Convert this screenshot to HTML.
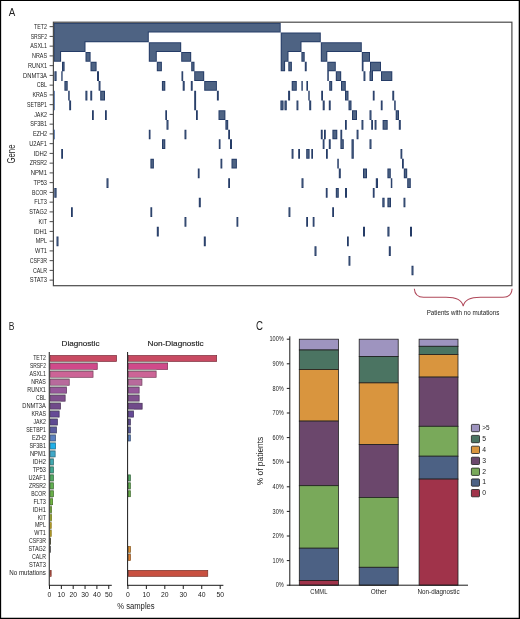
<!DOCTYPE html>
<html><head><meta charset="utf-8"><style>
html,body{margin:0;padding:0;background:#fff;}
svg{display:block;will-change:transform;}
text{font-family:"Liberation Sans",sans-serif;fill:#222;-webkit-font-smoothing:antialiased;}
</style></head><body>
<svg width="520" height="619" viewBox="0 0 520 619">
<rect x="0" y="0" width="520" height="619" fill="#fff"/>
<filter id="edge" x="0" y="0" width="1" height="1" color-interpolation-filters="sRGB"><feMorphology in="SourceAlpha" operator="erode" radius="1" result="er"/><feFlood flood-color="#253c67"/><feComposite in2="SourceAlpha" operator="in" result="dark"/><feComposite in="SourceGraphic" in2="er" operator="in" result="inner"/><feMerge><feMergeNode in="dark"/><feMergeNode in="inner"/></feMerge></filter>
<path fill="#4e6383" filter="url(#edge)" d="M53.50,22.80h227.20v9.71h-227.20zM53.50,32.51h95.30v9.71h-95.30zM280.70,32.51h40.10v9.71h-40.10zM53.50,42.23h32.00v9.71h-32.00zM148.80,42.23h32.40v9.71h-32.40zM280.70,42.23h20.80v9.71h-20.80zM320.80,42.23h41.00v9.71h-41.00zM53.50,51.94h7.60v9.71h-7.60zM85.50,51.94h5.10v9.71h-5.10zM148.80,51.94h8.00v9.71h-8.00zM181.20,51.94h10.00v9.71h-10.00zM280.70,51.94h7.80v9.71h-7.80zM301.40,51.94h3.30v9.71h-3.30zM320.80,51.94h6.50v9.71h-6.50zM361.80,51.94h8.20v9.71h-8.20zM62.00,61.66h2.60v9.71h-2.60zM90.50,61.66h6.10v9.71h-6.10zM156.80,61.66h5.10v9.71h-5.10zM191.20,61.66h3.30v9.71h-3.30zM280.70,61.66h4.40v9.71h-4.40zM288.30,61.66h3.60v9.71h-3.60zM304.80,61.66h1.90v9.71h-1.90zM327.30,61.66h8.50v9.71h-8.50zM361.80,61.66h1.70v9.71h-1.70zM370.00,61.66h11.00v9.71h-11.00zM54.40,71.37h2.20v9.71h-2.20zM61.30,71.37h1.30v9.71h-1.30zM97.00,71.37h2.00v9.71h-2.00zM181.50,71.37h1.70v9.71h-1.70zM194.20,71.37h10.00v9.71h-10.00zM327.30,71.37h1.50v9.71h-1.50zM335.80,71.37h5.40v9.71h-5.40zM363.50,71.37h1.90v9.71h-1.90zM369.50,71.37h3.50v9.71h-3.50zM381.00,71.37h11.30v9.71h-11.30zM64.40,81.08h3.30v9.71h-3.30zM98.60,81.08h1.90v9.71h-1.90zM161.90,81.08h3.40v9.71h-3.40zM182.70,81.08h2.00v9.71h-2.00zM190.80,81.08h1.90v9.71h-1.90zM204.20,81.08h12.70v9.71h-12.70zM291.70,81.08h5.10v9.71h-5.10zM301.40,81.08h1.40v9.71h-1.40zM306.40,81.08h1.60v9.71h-1.60zM329.20,81.08h3.00v9.71h-3.00zM341.00,81.08h4.80v9.71h-4.80zM68.20,90.80h1.50v9.71h-1.50zM85.40,90.80h2.00v9.71h-2.00zM90.30,90.80h1.90v9.71h-1.90zM100.20,90.80h4.80v9.71h-4.80zM194.20,90.80h1.90v9.71h-1.90zM216.90,90.80h1.90v9.71h-1.90zM288.10,90.80h2.00v9.71h-2.00zM308.30,90.80h1.40v9.71h-1.40zM321.20,90.80h1.80v9.71h-1.80zM345.00,90.80h3.50v9.71h-3.50zM372.80,90.80h1.80v9.71h-1.80zM392.30,90.80h1.90v9.71h-1.90zM69.20,100.51h1.90v9.71h-1.90zM194.20,100.51h1.90v9.71h-1.90zM280.40,100.51h3.10v9.71h-3.10zM284.50,100.51h2.30v9.71h-2.30zM296.50,100.51h1.90v9.71h-1.90zM309.20,100.51h2.00v9.71h-2.00zM322.70,100.51h2.00v9.71h-2.00zM328.80,100.51h1.90v9.71h-1.90zM348.50,100.51h3.00v9.71h-3.00zM380.80,100.51h1.80v9.71h-1.80zM394.20,100.51h1.50v9.71h-1.50zM92.00,110.23h1.80v9.71h-1.80zM105.00,110.23h1.80v9.71h-1.80zM165.30,110.23h1.70v9.71h-1.70zM196.00,110.23h1.80v9.71h-1.80zM218.50,110.23h6.90v9.71h-6.90zM352.00,110.23h5.00v9.71h-5.00zM369.50,110.23h2.00v9.71h-2.00zM395.70,110.23h3.30v9.71h-3.30zM166.50,119.94h2.00v9.71h-2.00zM225.40,119.94h2.80v9.71h-2.80zM345.00,119.94h1.80v9.71h-1.80zM361.50,119.94h1.90v9.71h-1.90zM371.20,119.94h1.80v9.71h-1.80zM374.60,119.94h1.90v9.71h-1.90zM382.60,119.94h5.10v9.71h-5.10zM398.80,119.94h2.00v9.71h-2.00zM148.80,129.65h1.70v9.71h-1.70zM184.50,129.65h1.90v9.71h-1.90zM228.20,129.65h1.80v9.71h-1.80zM320.80,129.65h1.90v9.71h-1.90zM324.00,129.65h1.80v9.71h-1.80zM332.40,129.65h4.90v9.71h-4.90zM340.40,129.65h1.80v9.71h-1.80zM356.60,129.65h1.90v9.71h-1.90zM162.00,139.37h3.30v9.71h-3.30zM218.80,139.37h1.70v9.71h-1.70zM230.00,139.37h2.00v9.71h-2.00zM322.70,139.37h1.80v9.71h-1.80zM328.80,139.37h1.90v9.71h-1.90zM340.40,139.37h3.40v9.71h-3.40zM351.50,139.37h2.30v9.71h-2.30zM369.50,139.37h2.00v9.71h-2.00zM61.20,149.08h1.80v9.71h-1.80zM291.60,149.08h1.90v9.71h-1.90zM298.20,149.08h1.80v9.71h-1.80zM306.20,149.08h3.40v9.71h-3.40zM311.30,149.08h1.70v9.71h-1.70zM326.00,149.08h1.80v9.71h-1.80zM351.50,149.08h2.30v9.71h-2.30zM400.50,149.08h1.80v9.71h-1.80zM150.40,158.80h3.50v9.71h-3.50zM220.50,158.80h1.80v9.71h-1.80zM231.50,158.80h5.40v9.71h-5.40zM337.30,158.80h1.50v9.71h-1.50zM402.00,158.80h1.80v9.71h-1.80zM197.80,168.51h1.80v9.71h-1.80zM338.80,168.51h2.00v9.71h-2.00zM363.00,168.51h4.00v9.71h-4.00zM387.40,168.51h3.40v9.71h-3.40zM403.80,168.51h3.40v9.71h-3.40zM106.50,178.22h2.00v9.71h-2.00zM228.20,178.22h1.80v9.71h-1.80zM301.50,178.22h2.00v9.71h-2.00zM375.80,178.22h2.20v9.71h-2.20zM390.80,178.22h1.50v9.71h-1.50zM407.20,178.22h3.60v9.71h-3.60zM54.30,187.94h2.30v9.71h-2.30zM325.80,187.94h1.80v9.71h-1.80zM335.80,187.94h3.00v9.71h-3.00zM345.00,187.94h2.00v9.71h-2.00zM372.80,187.94h1.80v9.71h-1.80zM198.80,197.65h2.00v9.71h-2.00zM382.30,197.65h2.30v9.71h-2.30zM387.40,197.65h3.60v9.71h-3.60zM403.50,197.65h1.90v9.71h-1.90zM71.00,207.37h1.80v9.71h-1.80zM150.40,207.37h1.80v9.71h-1.80zM288.50,207.37h1.90v9.71h-1.90zM332.20,207.37h1.80v9.71h-1.80zM184.50,217.08h1.90v9.71h-1.90zM236.50,217.08h1.80v9.71h-1.80zM306.20,217.08h1.80v9.71h-1.80zM312.70,217.08h1.80v9.71h-1.80zM156.80,226.79h2.00v9.71h-2.00zM363.00,226.79h2.00v9.71h-2.00zM387.40,226.79h2.10v9.71h-2.10zM410.00,226.79h2.00v9.71h-2.00zM56.50,236.51h2.00v9.71h-2.00zM203.80,236.51h2.00v9.71h-2.00zM347.00,236.51h1.80v9.71h-1.80zM314.50,246.22h2.00v9.71h-2.00zM388.80,246.22h2.00v9.71h-2.00zM348.50,255.94h1.90v9.71h-1.90zM411.50,265.65h2.00v9.71h-2.00z"/>
<rect x="54.0" y="90.80" width="1.0" height="19.43" fill="#6a88b8"/>
<rect x="54.0" y="129.65" width="1.0" height="9.71" fill="#6a88b8"/>
<rect x="53.4" y="22.2" width="458.5" height="263.5" fill="none" stroke="#4a4a4a" stroke-width="1.2"/>
<g stroke="#4a4a4a" stroke-width="1">
<line x1="49.6" y1="26.65" x2="53.5" y2="26.65"/>
<line x1="49.6" y1="36.40" x2="53.5" y2="36.40"/>
<line x1="49.6" y1="46.15" x2="53.5" y2="46.15"/>
<line x1="49.6" y1="55.90" x2="53.5" y2="55.90"/>
<line x1="49.6" y1="65.65" x2="53.5" y2="65.65"/>
<line x1="49.6" y1="75.40" x2="53.5" y2="75.40"/>
<line x1="49.6" y1="85.15" x2="53.5" y2="85.15"/>
<line x1="49.6" y1="94.90" x2="53.5" y2="94.90"/>
<line x1="49.6" y1="104.65" x2="53.5" y2="104.65"/>
<line x1="49.6" y1="114.40" x2="53.5" y2="114.40"/>
<line x1="49.6" y1="124.15" x2="53.5" y2="124.15"/>
<line x1="49.6" y1="133.90" x2="53.5" y2="133.90"/>
<line x1="49.6" y1="143.65" x2="53.5" y2="143.65"/>
<line x1="49.6" y1="153.40" x2="53.5" y2="153.40"/>
<line x1="49.6" y1="163.15" x2="53.5" y2="163.15"/>
<line x1="49.6" y1="172.90" x2="53.5" y2="172.90"/>
<line x1="49.6" y1="182.65" x2="53.5" y2="182.65"/>
<line x1="49.6" y1="192.40" x2="53.5" y2="192.40"/>
<line x1="49.6" y1="202.15" x2="53.5" y2="202.15"/>
<line x1="49.6" y1="211.90" x2="53.5" y2="211.90"/>
<line x1="49.6" y1="221.65" x2="53.5" y2="221.65"/>
<line x1="49.6" y1="231.40" x2="53.5" y2="231.40"/>
<line x1="49.6" y1="241.15" x2="53.5" y2="241.15"/>
<line x1="49.6" y1="250.90" x2="53.5" y2="250.90"/>
<line x1="49.6" y1="260.65" x2="53.5" y2="260.65"/>
<line x1="49.6" y1="270.40" x2="53.5" y2="270.40"/>
<line x1="49.6" y1="280.15" x2="53.5" y2="280.15"/>
</g>
<g>
<text x="47.00" y="28.95" font-size="6.5" text-anchor="end" textLength="13.00" lengthAdjust="spacingAndGlyphs" >TET2</text>
<text x="47.00" y="38.70" font-size="6.5" text-anchor="end" textLength="16.30" lengthAdjust="spacingAndGlyphs" >SRSF2</text>
<text x="47.00" y="48.45" font-size="6.5" text-anchor="end" textLength="16.70" lengthAdjust="spacingAndGlyphs" >ASXL1</text>
<text x="47.00" y="58.20" font-size="6.5" text-anchor="end" textLength="15.00" lengthAdjust="spacingAndGlyphs" >NRAS</text>
<text x="47.00" y="67.95" font-size="6.5" text-anchor="end" textLength="18.90" lengthAdjust="spacingAndGlyphs" >RUNX1</text>
<text x="47.00" y="77.70" font-size="6.5" text-anchor="end" textLength="23.90" lengthAdjust="spacingAndGlyphs" >DNMT3A</text>
<text x="47.00" y="87.45" font-size="6.5" text-anchor="end" textLength="10.20" lengthAdjust="spacingAndGlyphs" >CBL</text>
<text x="47.00" y="97.20" font-size="6.5" text-anchor="end" textLength="14.60" lengthAdjust="spacingAndGlyphs" >KRAS</text>
<text x="47.00" y="106.95" font-size="6.5" text-anchor="end" textLength="20.00" lengthAdjust="spacingAndGlyphs" >SETBP1</text>
<text x="47.00" y="116.70" font-size="6.5" text-anchor="end" textLength="12.80" lengthAdjust="spacingAndGlyphs" >JAK2</text>
<text x="47.00" y="126.45" font-size="6.5" text-anchor="end" textLength="16.70" lengthAdjust="spacingAndGlyphs" >SF3B1</text>
<text x="47.00" y="136.20" font-size="6.5" text-anchor="end" textLength="14.10" lengthAdjust="spacingAndGlyphs" >EZH2</text>
<text x="47.00" y="145.95" font-size="6.5" text-anchor="end" textLength="17.80" lengthAdjust="spacingAndGlyphs" >U2AF1</text>
<text x="47.00" y="155.70" font-size="6.5" text-anchor="end" textLength="13.50" lengthAdjust="spacingAndGlyphs" >IDH2</text>
<text x="47.00" y="165.45" font-size="6.5" text-anchor="end" textLength="17.20" lengthAdjust="spacingAndGlyphs" >ZRSR2</text>
<text x="47.00" y="175.20" font-size="6.5" text-anchor="end" textLength="16.30" lengthAdjust="spacingAndGlyphs" >NPM1</text>
<text x="47.00" y="184.95" font-size="6.5" text-anchor="end" textLength="13.50" lengthAdjust="spacingAndGlyphs" >TP53</text>
<text x="47.00" y="194.70" font-size="6.5" text-anchor="end" textLength="15.00" lengthAdjust="spacingAndGlyphs" >BCOR</text>
<text x="47.00" y="204.45" font-size="6.5" text-anchor="end" textLength="12.80" lengthAdjust="spacingAndGlyphs" >FLT3</text>
<text x="47.00" y="214.20" font-size="6.5" text-anchor="end" textLength="17.80" lengthAdjust="spacingAndGlyphs" >STAG2</text>
<text x="47.00" y="223.95" font-size="6.5" text-anchor="end" textLength="8.40" lengthAdjust="spacingAndGlyphs" >KIT</text>
<text x="47.00" y="233.70" font-size="6.5" text-anchor="end" textLength="13.50" lengthAdjust="spacingAndGlyphs" >IDH1</text>
<text x="47.00" y="243.45" font-size="6.5" text-anchor="end" textLength="11.30" lengthAdjust="spacingAndGlyphs" >MPL</text>
<text x="47.00" y="253.20" font-size="6.5" text-anchor="end" textLength="11.90" lengthAdjust="spacingAndGlyphs" >WT1</text>
<text x="47.00" y="262.95" font-size="6.5" text-anchor="end" textLength="17.20" lengthAdjust="spacingAndGlyphs" >CSF3R</text>
<text x="47.00" y="272.70" font-size="6.5" text-anchor="end" textLength="14.10" lengthAdjust="spacingAndGlyphs" >CALR</text>
<text x="47.00" y="282.45" font-size="6.5" text-anchor="end" textLength="17.20" lengthAdjust="spacingAndGlyphs" >STAT3</text>
</g>
<text transform="translate(14.8,154) rotate(-90)" font-size="10.4" text-anchor="middle" textLength="19" lengthAdjust="spacingAndGlyphs" fill="#222">Gene</text>
<text x="8.70" y="16.20" font-size="11.5" textLength="6.50" lengthAdjust="spacingAndGlyphs" >A</text>
<path d="M414.3,288.8 C414.8,295 418,297.3 423.5,297.3 L446,297.3 C456,297.3 462,300 463.2,306.2 C464.4,300 470.4,297.3 480.4,297.3 L503,297.3 C508.4,297.3 511.6,295 512.1,288.8" fill="none" stroke="#b0485a" stroke-width="1.05"/>
<text x="426.70" y="315.00" font-size="7" textLength="72.70" lengthAdjust="spacingAndGlyphs" >Patients with no mutations</text>
<text x="8.70" y="329.80" font-size="11.5" textLength="5.70" lengthAdjust="spacingAndGlyphs" >B</text>
<text x="80.50" y="346.30" font-size="8.0" text-anchor="middle" textLength="38.00" lengthAdjust="spacingAndGlyphs" stroke="#222" stroke-width="0.15">Diagnostic</text>
<text x="175.60" y="346.30" font-size="8.0" text-anchor="middle" textLength="56.30" lengthAdjust="spacingAndGlyphs" stroke="#222" stroke-width="0.15">Non-Diagnostic</text>
<rect x="50.15" y="355.50" width="66.40" height="5.9" fill="#c84a62" stroke="#782c3a" stroke-width="0.7"/>
<rect x="49.80" y="361.71" width="47.80" height="1.4" fill="#b4bab4"/>
<rect x="50.15" y="363.46" width="47.10" height="5.9" fill="#d04a8a" stroke="#7c2c52" stroke-width="0.7"/>
<rect x="49.80" y="369.67" width="43.60" height="1.4" fill="#b4bab4"/>
<rect x="50.15" y="371.42" width="42.90" height="5.9" fill="#cc6496" stroke="#7a3c5a" stroke-width="0.7"/>
<rect x="49.80" y="377.63" width="19.80" height="1.4" fill="#b4bab4"/>
<rect x="50.15" y="379.38" width="19.10" height="5.9" fill="#b86a9c" stroke="#6e3f5d" stroke-width="0.7"/>
<rect x="49.80" y="385.59" width="17.10" height="1.4" fill="#b4bab4"/>
<rect x="50.15" y="387.34" width="16.40" height="5.9" fill="#96589a" stroke="#5a345c" stroke-width="0.7"/>
<rect x="49.80" y="393.55" width="15.70" height="1.4" fill="#b4bab4"/>
<rect x="50.15" y="395.30" width="15.00" height="5.9" fill="#80508e" stroke="#4c3055" stroke-width="0.7"/>
<rect x="49.80" y="401.51" width="11.00" height="1.4" fill="#b4bab4"/>
<rect x="50.15" y="403.26" width="10.30" height="5.9" fill="#704a8a" stroke="#432c52" stroke-width="0.7"/>
<rect x="49.80" y="409.47" width="9.70" height="1.4" fill="#b4bab4"/>
<rect x="50.15" y="411.22" width="9.00" height="5.9" fill="#664a96" stroke="#3d2c5a" stroke-width="0.7"/>
<rect x="49.80" y="417.43" width="7.90" height="1.4" fill="#b4bab4"/>
<rect x="50.15" y="419.18" width="7.20" height="5.9" fill="#5e4a92" stroke="#382c57" stroke-width="0.7"/>
<rect x="49.80" y="425.39" width="7.00" height="1.4" fill="#b4bab4"/>
<rect x="50.15" y="427.14" width="6.30" height="5.9" fill="#5a5a9e" stroke="#36365e" stroke-width="0.7"/>
<rect x="49.80" y="433.35" width="6.10" height="1.4" fill="#b4bab4"/>
<rect x="50.15" y="435.10" width="5.40" height="5.9" fill="#5a80c0" stroke="#364c73" stroke-width="0.7"/>
<rect x="49.80" y="441.31" width="6.10" height="1.4" fill="#b4bab4"/>
<rect x="50.15" y="443.06" width="5.40" height="5.9" fill="#20b0e8" stroke="#13698b" stroke-width="0.7"/>
<rect x="49.80" y="449.27" width="5.70" height="1.4" fill="#b4bab4"/>
<rect x="50.15" y="451.02" width="5.00" height="5.9" fill="#40a8c8" stroke="#266478" stroke-width="0.7"/>
<rect x="49.80" y="457.23" width="4.00" height="1.4" fill="#b4bab4"/>
<rect x="50.15" y="458.98" width="3.30" height="5.9" fill="#40a8b0" stroke="#266469" stroke-width="0.7"/>
<rect x="49.80" y="465.19" width="4.00" height="1.4" fill="#b4bab4"/>
<rect x="50.15" y="466.94" width="3.30" height="5.9" fill="#40a890" stroke="#266456" stroke-width="0.7"/>
<rect x="49.80" y="473.15" width="4.00" height="1.4" fill="#b4bab4"/>
<rect x="50.15" y="474.90" width="3.30" height="5.9" fill="#50a860" stroke="#306439" stroke-width="0.7"/>
<rect x="49.80" y="481.11" width="4.00" height="1.4" fill="#b4bab4"/>
<rect x="50.15" y="482.86" width="3.30" height="5.9" fill="#60b050" stroke="#396930" stroke-width="0.7"/>
<rect x="49.80" y="489.07" width="4.00" height="1.4" fill="#b4bab4"/>
<rect x="50.15" y="490.82" width="3.30" height="5.9" fill="#68b048" stroke="#3e692b" stroke-width="0.7"/>
<rect x="49.80" y="497.03" width="3.20" height="1.4" fill="#b4bab4"/>
<rect x="50.15" y="498.78" width="2.50" height="5.9" fill="#70b840" stroke="#436e26" stroke-width="0.7"/>
<rect x="49.80" y="504.99" width="2.20" height="1.4" fill="#b4bab4"/>
<rect x="50.15" y="506.74" width="1.50" height="5.9" fill="#80b840" stroke="#4c6e26" stroke-width="0.7"/>
<rect x="49.80" y="512.95" width="2.20" height="1.4" fill="#b4bab4"/>
<rect x="50.15" y="514.70" width="1.50" height="5.9" fill="#b0c030" stroke="#69731c" stroke-width="0.7"/>
<rect x="49.80" y="520.91" width="1.80" height="1.4" fill="#b4bab4"/>
<rect x="50.15" y="522.66" width="1.10" height="5.9" fill="#d8b820" stroke="#816e13" stroke-width="0.7"/>
<rect x="49.80" y="528.87" width="1.80" height="1.4" fill="#b4bab4"/>
<rect x="50.15" y="530.62" width="1.10" height="5.9" fill="#d8b820" stroke="#816e13" stroke-width="0.7"/>
<rect x="49.80" y="536.83" width="1.00" height="1.4" fill="#b4bab4"/>
<rect x="50.15" y="538.58" width="0.30" height="5.9" fill="#3a3a18" stroke="#22220e" stroke-width="0.7"/>
<rect x="49.80" y="544.79" width="0.70" height="1.4" fill="#b4bab4"/>
<rect x="50.15" y="546.54" width="0.10" height="5.9" fill="#181818" stroke="#0e0e0e" stroke-width="0.7"/>
<rect x="50.15" y="570.42" width="1.00" height="5.9" fill="#c85040" stroke="#783026" stroke-width="0.7"/>
<rect x="128.35" y="355.50" width="88.30" height="5.9" fill="#c84a62" stroke="#782c3a" stroke-width="0.7"/>
<rect x="128.00" y="361.71" width="40.00" height="1.4" fill="#b4bab4"/>
<rect x="128.35" y="363.46" width="39.30" height="5.9" fill="#d04a8a" stroke="#7c2c52" stroke-width="0.7"/>
<rect x="128.00" y="369.67" width="28.50" height="1.4" fill="#b4bab4"/>
<rect x="128.35" y="371.42" width="27.80" height="5.9" fill="#cc6496" stroke="#7a3c5a" stroke-width="0.7"/>
<rect x="128.00" y="377.63" width="14.30" height="1.4" fill="#b4bab4"/>
<rect x="128.35" y="379.38" width="13.60" height="5.9" fill="#b86a9c" stroke="#6e3f5d" stroke-width="0.7"/>
<rect x="128.00" y="385.59" width="11.50" height="1.4" fill="#b4bab4"/>
<rect x="128.35" y="387.34" width="10.80" height="5.9" fill="#96589a" stroke="#5a345c" stroke-width="0.7"/>
<rect x="128.00" y="393.55" width="11.50" height="1.4" fill="#b4bab4"/>
<rect x="128.35" y="395.30" width="10.80" height="5.9" fill="#80508e" stroke="#4c3055" stroke-width="0.7"/>
<rect x="128.00" y="401.51" width="11.50" height="1.4" fill="#b4bab4"/>
<rect x="128.35" y="403.26" width="13.80" height="5.9" fill="#704a8a" stroke="#432c52" stroke-width="0.7"/>
<rect x="128.00" y="409.47" width="5.90" height="1.4" fill="#b4bab4"/>
<rect x="128.35" y="411.22" width="5.20" height="5.9" fill="#664a96" stroke="#3d2c5a" stroke-width="0.7"/>
<rect x="128.00" y="417.43" width="2.70" height="1.4" fill="#b4bab4"/>
<rect x="128.35" y="419.18" width="2.00" height="5.9" fill="#5e4a92" stroke="#382c57" stroke-width="0.7"/>
<rect x="128.00" y="425.39" width="2.70" height="1.4" fill="#b4bab4"/>
<rect x="128.35" y="427.14" width="2.00" height="5.9" fill="#5a5a9e" stroke="#36365e" stroke-width="0.7"/>
<rect x="128.00" y="433.35" width="2.70" height="1.4" fill="#b4bab4"/>
<rect x="128.35" y="435.10" width="2.00" height="5.9" fill="#5a80c0" stroke="#364c73" stroke-width="0.7"/>
<rect x="128.35" y="474.90" width="2.00" height="5.9" fill="#50a860" stroke="#306439" stroke-width="0.7"/>
<rect x="128.00" y="481.11" width="2.70" height="1.4" fill="#b4bab4"/>
<rect x="128.35" y="482.86" width="2.00" height="5.9" fill="#60b050" stroke="#396930" stroke-width="0.7"/>
<rect x="128.00" y="489.07" width="2.70" height="1.4" fill="#b4bab4"/>
<rect x="128.35" y="490.82" width="2.00" height="5.9" fill="#68b048" stroke="#3e692b" stroke-width="0.7"/>
<rect x="128.35" y="546.54" width="2.10" height="5.9" fill="#e09030" stroke="#86561c" stroke-width="0.7"/>
<rect x="128.00" y="552.75" width="2.80" height="1.4" fill="#b4bab4"/>
<rect x="128.35" y="554.50" width="2.10" height="5.9" fill="#e08030" stroke="#864c1c" stroke-width="0.7"/>
<rect x="128.35" y="570.42" width="79.40" height="5.9" fill="#c85040" stroke="#783026" stroke-width="0.7"/>
<g stroke="#1a1a1a" stroke-width="1" fill="none">
<line x1="49.25" y1="352" x2="49.25" y2="585.8"/>
<line x1="49" y1="585.3" x2="111.8" y2="585.3"/>
<line x1="127.6" y1="352" x2="127.6" y2="585.8"/>
<line x1="127.1" y1="585.3" x2="223.4" y2="585.3"/>
<line x1="49.50" y1="585.3" x2="49.50" y2="589"/>
<line x1="127.90" y1="585.3" x2="127.90" y2="589"/>
<line x1="61.35" y1="585.3" x2="61.35" y2="589"/>
<line x1="146.36" y1="585.3" x2="146.36" y2="589"/>
<line x1="73.20" y1="585.3" x2="73.20" y2="589"/>
<line x1="164.82" y1="585.3" x2="164.82" y2="589"/>
<line x1="85.05" y1="585.3" x2="85.05" y2="589"/>
<line x1="183.28" y1="585.3" x2="183.28" y2="589"/>
<line x1="96.90" y1="585.3" x2="96.90" y2="589"/>
<line x1="201.74" y1="585.3" x2="201.74" y2="589"/>
<line x1="108.75" y1="585.3" x2="108.75" y2="589"/>
<line x1="220.20" y1="585.3" x2="220.20" y2="589"/>
</g>
<text x="49.50" y="597.20" font-size="6.8" text-anchor="middle" >0</text>
<text x="127.90" y="597.20" font-size="6.8" text-anchor="middle" >0</text>
<text x="61.35" y="597.20" font-size="6.8" text-anchor="middle" >10</text>
<text x="146.36" y="597.20" font-size="6.8" text-anchor="middle" >10</text>
<text x="73.20" y="597.20" font-size="6.8" text-anchor="middle" >20</text>
<text x="164.82" y="597.20" font-size="6.8" text-anchor="middle" >20</text>
<text x="85.05" y="597.20" font-size="6.8" text-anchor="middle" >30</text>
<text x="183.28" y="597.20" font-size="6.8" text-anchor="middle" >30</text>
<text x="96.90" y="597.20" font-size="6.8" text-anchor="middle" >40</text>
<text x="201.74" y="597.20" font-size="6.8" text-anchor="middle" >40</text>
<text x="108.75" y="597.20" font-size="6.8" text-anchor="middle" >50</text>
<text x="220.20" y="597.20" font-size="6.8" text-anchor="middle" >50</text>
<text x="45.90" y="360.30" font-size="6.5" text-anchor="end" textLength="12.70" lengthAdjust="spacingAndGlyphs" >TET2</text>
<text x="45.90" y="368.26" font-size="6.5" text-anchor="end" textLength="16.00" lengthAdjust="spacingAndGlyphs" >SRSF2</text>
<text x="45.90" y="376.22" font-size="6.5" text-anchor="end" textLength="16.40" lengthAdjust="spacingAndGlyphs" >ASXL1</text>
<text x="45.90" y="384.18" font-size="6.5" text-anchor="end" textLength="14.70" lengthAdjust="spacingAndGlyphs" >NRAS</text>
<text x="45.90" y="392.14" font-size="6.5" text-anchor="end" textLength="18.60" lengthAdjust="spacingAndGlyphs" >RUNX1</text>
<text x="45.90" y="400.10" font-size="6.5" text-anchor="end" textLength="9.90" lengthAdjust="spacingAndGlyphs" >CBL</text>
<text x="45.90" y="408.06" font-size="6.5" text-anchor="end" textLength="23.60" lengthAdjust="spacingAndGlyphs" >DNMT3A</text>
<text x="45.90" y="416.02" font-size="6.5" text-anchor="end" textLength="14.30" lengthAdjust="spacingAndGlyphs" >KRAS</text>
<text x="45.90" y="423.98" font-size="6.5" text-anchor="end" textLength="12.50" lengthAdjust="spacingAndGlyphs" >JAK2</text>
<text x="45.90" y="431.94" font-size="6.5" text-anchor="end" textLength="19.70" lengthAdjust="spacingAndGlyphs" >SETBP1</text>
<text x="45.90" y="439.90" font-size="6.5" text-anchor="end" textLength="13.80" lengthAdjust="spacingAndGlyphs" >EZH2</text>
<text x="45.90" y="447.86" font-size="6.5" text-anchor="end" textLength="16.40" lengthAdjust="spacingAndGlyphs" >SF3B1</text>
<text x="45.90" y="455.82" font-size="6.5" text-anchor="end" textLength="16.00" lengthAdjust="spacingAndGlyphs" >NPM1</text>
<text x="45.90" y="463.78" font-size="6.5" text-anchor="end" textLength="13.20" lengthAdjust="spacingAndGlyphs" >IDH2</text>
<text x="45.90" y="471.74" font-size="6.5" text-anchor="end" textLength="13.20" lengthAdjust="spacingAndGlyphs" >TP53</text>
<text x="45.90" y="479.70" font-size="6.5" text-anchor="end" textLength="17.50" lengthAdjust="spacingAndGlyphs" >U2AF1</text>
<text x="45.90" y="487.66" font-size="6.5" text-anchor="end" textLength="16.90" lengthAdjust="spacingAndGlyphs" >ZRSR2</text>
<text x="45.90" y="495.62" font-size="6.5" text-anchor="end" textLength="14.70" lengthAdjust="spacingAndGlyphs" >BCOR</text>
<text x="45.90" y="503.58" font-size="6.5" text-anchor="end" textLength="12.50" lengthAdjust="spacingAndGlyphs" >FLT3</text>
<text x="45.90" y="511.54" font-size="6.5" text-anchor="end" textLength="13.20" lengthAdjust="spacingAndGlyphs" >IDH1</text>
<text x="45.90" y="519.50" font-size="6.5" text-anchor="end" textLength="8.10" lengthAdjust="spacingAndGlyphs" >KIT</text>
<text x="45.90" y="527.46" font-size="6.5" text-anchor="end" textLength="11.00" lengthAdjust="spacingAndGlyphs" >MPL</text>
<text x="45.90" y="535.42" font-size="6.5" text-anchor="end" textLength="11.60" lengthAdjust="spacingAndGlyphs" >WT1</text>
<text x="45.90" y="543.38" font-size="6.5" text-anchor="end" textLength="16.90" lengthAdjust="spacingAndGlyphs" >CSF3R</text>
<text x="45.90" y="551.34" font-size="6.5" text-anchor="end" textLength="17.50" lengthAdjust="spacingAndGlyphs" >STAG2</text>
<text x="45.90" y="559.30" font-size="6.5" text-anchor="end" textLength="13.80" lengthAdjust="spacingAndGlyphs" >CALR</text>
<text x="45.90" y="567.26" font-size="6.5" text-anchor="end" textLength="16.90" lengthAdjust="spacingAndGlyphs" >STAT3</text>
<text x="45.90" y="575.22" font-size="6.5" text-anchor="end" textLength="36.70" lengthAdjust="spacingAndGlyphs" >No mutations</text>
<text x="117.20" y="608.50" font-size="8.3" textLength="37.50" lengthAdjust="spacingAndGlyphs" >% samples</text>
<text x="255.90" y="329.80" font-size="12.2" textLength="7.00" lengthAdjust="spacingAndGlyphs" >C</text>
<rect x="299.30" y="339.20" width="39.10" height="10.80" fill="#9e94bf" stroke="#1e1e1e" stroke-width="0.8"/>
<rect x="299.30" y="350.00" width="39.10" height="19.50" fill="#4b7462" stroke="#1e1e1e" stroke-width="0.8"/>
<rect x="299.30" y="369.50" width="39.10" height="51.60" fill="#d9953e" stroke="#1e1e1e" stroke-width="0.8"/>
<rect x="299.30" y="421.10" width="39.10" height="64.60" fill="#6b476c" stroke="#1e1e1e" stroke-width="0.8"/>
<rect x="299.30" y="485.70" width="39.10" height="62.50" fill="#79a95a" stroke="#1e1e1e" stroke-width="0.8"/>
<rect x="299.30" y="548.20" width="39.10" height="32.30" fill="#4c6184" stroke="#1e1e1e" stroke-width="0.8"/>
<rect x="299.30" y="580.50" width="39.10" height="4.70" fill="#a0334a" stroke="#1e1e1e" stroke-width="0.8"/>
<text x="318.85" y="594.30" font-size="6.8" text-anchor="middle" textLength="17.00" lengthAdjust="spacingAndGlyphs" >CMML</text>
<rect x="359.20" y="339.20" width="39.00" height="17.30" fill="#9e94bf" stroke="#1e1e1e" stroke-width="0.8"/>
<rect x="359.20" y="356.50" width="39.00" height="26.40" fill="#4b7462" stroke="#1e1e1e" stroke-width="0.8"/>
<rect x="359.20" y="382.90" width="39.00" height="61.60" fill="#d9953e" stroke="#1e1e1e" stroke-width="0.8"/>
<rect x="359.20" y="444.50" width="39.00" height="52.90" fill="#6b476c" stroke="#1e1e1e" stroke-width="0.8"/>
<rect x="359.20" y="497.40" width="39.00" height="69.90" fill="#79a95a" stroke="#1e1e1e" stroke-width="0.8"/>
<rect x="359.20" y="567.30" width="39.00" height="17.90" fill="#4c6184" stroke="#1e1e1e" stroke-width="0.8"/>
<text x="378.70" y="594.30" font-size="6.8" text-anchor="middle" textLength="16.00" lengthAdjust="spacingAndGlyphs" >Other</text>
<rect x="419.10" y="339.20" width="38.90" height="7.10" fill="#9e94bf" stroke="#1e1e1e" stroke-width="0.8"/>
<rect x="419.10" y="346.30" width="38.90" height="8.30" fill="#4b7462" stroke="#1e1e1e" stroke-width="0.8"/>
<rect x="419.10" y="354.60" width="38.90" height="22.50" fill="#d9953e" stroke="#1e1e1e" stroke-width="0.8"/>
<rect x="419.10" y="377.10" width="38.90" height="49.20" fill="#6b476c" stroke="#1e1e1e" stroke-width="0.8"/>
<rect x="419.10" y="426.30" width="38.90" height="29.90" fill="#79a95a" stroke="#1e1e1e" stroke-width="0.8"/>
<rect x="419.10" y="456.20" width="38.90" height="22.90" fill="#4c6184" stroke="#1e1e1e" stroke-width="0.8"/>
<rect x="419.10" y="479.10" width="38.90" height="106.10" fill="#a0334a" stroke="#1e1e1e" stroke-width="0.8"/>
<text x="438.55" y="594.30" font-size="6.8" text-anchor="middle" textLength="42.00" lengthAdjust="spacingAndGlyphs" >Non-diagnostic</text>
<g stroke="#1a1a1a" stroke-width="1" fill="none">
<line x1="289.8" y1="336.3" x2="289.8" y2="585.7"/>
<line x1="289.3" y1="585.2" x2="468" y2="585.2"/>
<line x1="286.8" y1="585.20" x2="289.8" y2="585.20"/>
<line x1="286.8" y1="560.60" x2="289.8" y2="560.60"/>
<line x1="286.8" y1="536.00" x2="289.8" y2="536.00"/>
<line x1="286.8" y1="511.40" x2="289.8" y2="511.40"/>
<line x1="286.8" y1="486.80" x2="289.8" y2="486.80"/>
<line x1="286.8" y1="462.20" x2="289.8" y2="462.20"/>
<line x1="286.8" y1="437.60" x2="289.8" y2="437.60"/>
<line x1="286.8" y1="413.00" x2="289.8" y2="413.00"/>
<line x1="286.8" y1="388.40" x2="289.8" y2="388.40"/>
<line x1="286.8" y1="363.80" x2="289.8" y2="363.80"/>
<line x1="286.8" y1="339.20" x2="289.8" y2="339.20"/>
</g>
<text x="283.80" y="587.40" font-size="6.5" text-anchor="end" textLength="8.08" lengthAdjust="spacingAndGlyphs" >0%</text>
<text x="283.80" y="562.80" font-size="6.5" text-anchor="end" textLength="11.19" lengthAdjust="spacingAndGlyphs" >10%</text>
<text x="283.80" y="538.20" font-size="6.5" text-anchor="end" textLength="11.19" lengthAdjust="spacingAndGlyphs" >20%</text>
<text x="283.80" y="513.60" font-size="6.5" text-anchor="end" textLength="11.19" lengthAdjust="spacingAndGlyphs" >30%</text>
<text x="283.80" y="489.00" font-size="6.5" text-anchor="end" textLength="11.19" lengthAdjust="spacingAndGlyphs" >40%</text>
<text x="283.80" y="464.40" font-size="6.5" text-anchor="end" textLength="11.19" lengthAdjust="spacingAndGlyphs" >50%</text>
<text x="283.80" y="439.80" font-size="6.5" text-anchor="end" textLength="11.19" lengthAdjust="spacingAndGlyphs" >60%</text>
<text x="283.80" y="415.20" font-size="6.5" text-anchor="end" textLength="11.19" lengthAdjust="spacingAndGlyphs" >70%</text>
<text x="283.80" y="390.60" font-size="6.5" text-anchor="end" textLength="11.19" lengthAdjust="spacingAndGlyphs" >80%</text>
<text x="283.80" y="366.00" font-size="6.5" text-anchor="end" textLength="11.19" lengthAdjust="spacingAndGlyphs" >90%</text>
<text x="283.80" y="341.40" font-size="6.5" text-anchor="end" textLength="14.30" lengthAdjust="spacingAndGlyphs" >100%</text>
<text transform="translate(263.3,461) rotate(-90)" font-size="8.6" text-anchor="middle" textLength="48.5" lengthAdjust="spacingAndGlyphs" fill="#222">% of patients</text>
<rect x="471.4" y="424.40" width="8.1" height="7.3" rx="0.8" fill="#9e94bf" stroke="#1e1e1e" stroke-width="0.8"/>
<text x="482.30" y="429.80" font-size="6.8" textLength="7.30" lengthAdjust="spacingAndGlyphs" >&gt;5</text>
<rect x="471.4" y="435.40" width="8.1" height="7.3" rx="0.8" fill="#4b7462" stroke="#1e1e1e" stroke-width="0.8"/>
<text x="482.30" y="440.80" font-size="6.8" >5</text>
<rect x="471.4" y="446.20" width="8.1" height="7.3" rx="0.8" fill="#d9953e" stroke="#1e1e1e" stroke-width="0.8"/>
<text x="482.30" y="451.60" font-size="6.8" >4</text>
<rect x="471.4" y="457.20" width="8.1" height="7.3" rx="0.8" fill="#6b476c" stroke="#1e1e1e" stroke-width="0.8"/>
<text x="482.30" y="462.60" font-size="6.8" >3</text>
<rect x="471.4" y="468.10" width="8.1" height="7.3" rx="0.8" fill="#79a95a" stroke="#1e1e1e" stroke-width="0.8"/>
<text x="482.30" y="473.50" font-size="6.8" >2</text>
<rect x="471.4" y="478.90" width="8.1" height="7.3" rx="0.8" fill="#4c6184" stroke="#1e1e1e" stroke-width="0.8"/>
<text x="482.30" y="484.30" font-size="6.8" >1</text>
<rect x="471.4" y="489.50" width="8.1" height="7.3" rx="0.8" fill="#a0334a" stroke="#1e1e1e" stroke-width="0.8"/>
<text x="482.30" y="494.90" font-size="6.8" >0</text>
<path fill="#000" d="M0,0H520V1.1H0zM0,0H1.15V619H0zM518.7,0H520V619H518.7zM0,617.7H520V619H0z"/>
</svg>
</body></html>
